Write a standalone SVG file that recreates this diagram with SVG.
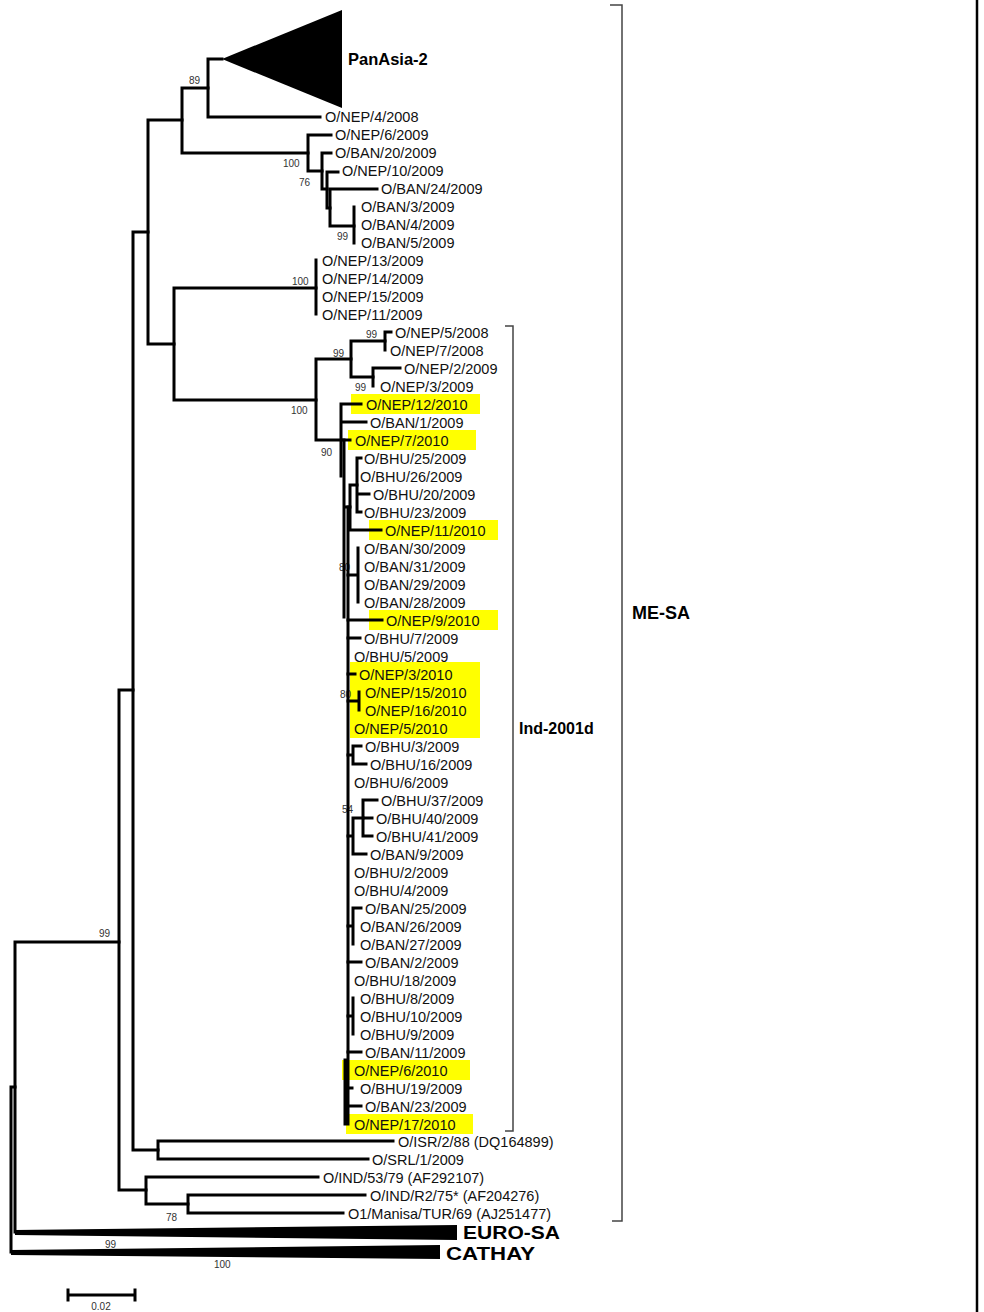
<svg xmlns="http://www.w3.org/2000/svg" width="984" height="1312" viewBox="0 0 984 1312">
<style>
.br{stroke:#000;stroke-width:3;fill:none;stroke-linecap:square}
.bk{stroke:#444;stroke-width:1.5;fill:none}
.lf{font-family:"Liberation Sans",Arial,sans-serif;font-size:14.5px;fill:#111}
.bs{font-family:"Liberation Sans",Arial,sans-serif;font-size:10px;fill:#333}
.cl{font-family:"Liberation Sans",Arial,sans-serif;font-weight:bold;fill:#000}
.hl{fill:#ffff00}
</style>
<rect width="984" height="1312" fill="#fff"/>
<g id="highlights">
<rect class="hl" x="351" y="394" width="129" height="20"/>
<rect class="hl" x="348" y="430" width="128" height="20"/>
<rect class="hl" x="369" y="520" width="129" height="20"/>
<rect class="hl" x="369" y="610" width="129" height="20"/>
<rect class="hl" x="350" y="662" width="130" height="76"/>
<rect class="hl" x="342" y="1060" width="128" height="20"/>
<rect class="hl" x="346" y="1114" width="127" height="20"/>
</g>
<g id="bootstrap">
<text class="bs" x="189" y="84">89</text>
<text class="bs" x="283" y="167">100</text>
<text class="bs" x="299" y="186">76</text>
<text class="bs" x="337" y="240">99</text>
<text class="bs" x="292" y="285">100</text>
<text class="bs" x="366" y="338">99</text>
<text class="bs" x="333" y="357">99</text>
<text class="bs" x="355" y="391">99</text>
<text class="bs" x="291" y="414">100</text>
<text class="bs" x="321" y="456">90</text>
<text class="bs" x="339" y="571">80</text>
<text class="bs" x="340" y="698">80</text>
<text class="bs" x="342" y="813">54</text>
<text class="bs" x="99" y="937">99</text>
<text class="bs" x="166" y="1221">78</text>
<text class="bs" x="105" y="1248">99</text>
<text class="bs" x="214" y="1268">100</text>
</g>
<g id="connectors">
<path class="br" d="M208,59V117M208,59H222M208,117H320"/>
<path class="br" d="M182,88V153M182,88H208M182,153H308"/>
<path class="br" d="M308,135V171M308,135H331M308,171H322"/>
<path class="br" d="M322,153V189M322,153H331M322,189H327"/>
<path class="br" d="M327,172V208M327,172H338M327,208H330"/>
<path class="br" d="M330,189V226M330,189H377M330,226H354"/>
<path class="br" d="M354,207V243"/>
<path class="br" d="M316,260V314"/>
<path class="br" d="M174,288V400M174,288H316M174,400H316"/>
<path class="br" d="M148,120V344M148,120H182M148,344H174"/>
<path class="br" d="M133,232V1150M133,232H148M133,1150H158"/>
<path class="br" d="M119,690V1190M119,690H133M119,1190H146"/>
<path class="br" d="M146,1177V1204M146,1177H318M146,1204H188"/>
<path class="br" d="M188,1195V1213M188,1195H365M188,1213H343"/>
<path class="br" d="M158,1141V1159M158,1141H393M158,1159H368"/>
<path class="br" d="M15,942V1232M15,942H119"/>
<path class="br" d="M11,1087V1252M11,1087H15"/>
<path class="br" d="M316,359V440M316,359H351M316,440H341"/>
<path class="br" d="M351,341V377M351,341H385M351,377H373"/>
<path class="br" d="M385,332V350M385,332H391"/>
<path class="br" d="M373,368V386M373,368H400"/>
<path class="br" d="M341,404V476M341,404H361M341,422H366M341,440H350"/>
<path class="br" d="M344,440V617M344,507H350"/>
<path class="br" d="M357,458V512M357,458H361M357,494H369M357,512H361"/>
<path class="br" d="M350,485V530M350,485H357M350,530H381"/>
<path class="br" d="M348,507V1124M345,1060V1124"/>
<path class="br" d="M358,548V602M348,575H358"/>
<path class="br" d="M348,620H382M348,638H360M348,674H355"/>
<path class="br" d="M359,692V710M348,701H359"/>
<path class="br" d="M353,746V764M353,746H361M353,764H366M348,755H353"/>
<path class="br" d="M363,800V836M363,800H377M363,818H372M363,836H372"/>
<path class="br" d="M353,818V854M353,818H363M353,854H366M348,836H353"/>
<path class="br" d="M353,908V944M353,908H361M348,926H353"/>
<path class="br" d="M348,962H361"/>
<path class="br" d="M353,998V1034M348,1016H353"/>
<path class="br" d="M348,1052H361M348,1088H352M348,1106H361"/>
<path class="br" d="M68,1295H135M68,1290V1300M135,1290V1300" stroke-width="2"/>
</g>
<g id="PanAsia-2">
<polygon points="222,59 342,10 342,108" fill="#000"/>
<text class="cl" x="348" y="65" font-size="16.5">PanAsia-2</text>
</g>
<g id="EURO-SA">
<polygon points="15,1230 457,1225 457,1240 15,1235" fill="#000"/>
<text class="cl" x="463" y="1239" font-size="18.5" textLength="97" lengthAdjust="spacingAndGlyphs">EURO-SA</text>
</g>
<g id="CATHAY">
<polygon points="11,1250 440,1245 440,1259 11,1255" fill="#000"/>
<text class="cl" x="446" y="1260" font-size="18.5" textLength="89" lengthAdjust="spacingAndGlyphs">CATHAY</text>
</g>
<g id="leaves" class="lf">
<g id="NEP-4-2008"><text x="325" y="122">O/NEP/4/2008</text></g>
<g id="NEP-6-2009"><text x="335" y="140">O/NEP/6/2009</text></g>
<g id="BAN-20-2009"><text x="335" y="158">O/BAN/20/2009</text></g>
<g id="NEP-10-2009"><text x="342" y="176">O/NEP/10/2009</text></g>
<g id="BAN-24-2009"><text x="381" y="194">O/BAN/24/2009</text></g>
<g id="BAN-3-2009"><text x="361" y="212">O/BAN/3/2009</text></g>
<g id="BAN-4-2009"><text x="361" y="230">O/BAN/4/2009</text></g>
<g id="BAN-5-2009"><text x="361" y="248">O/BAN/5/2009</text></g>
<g id="NEP-13-2009"><text x="322" y="266">O/NEP/13/2009</text></g>
<g id="NEP-14-2009"><text x="322" y="284">O/NEP/14/2009</text></g>
<g id="NEP-15-2009"><text x="322" y="302">O/NEP/15/2009</text></g>
<g id="NEP-11-2009"><text x="322" y="320">O/NEP/11/2009</text></g>
<g id="NEP-5-2008"><text x="395" y="338">O/NEP/5/2008</text></g>
<g id="NEP-7-2008"><text x="390" y="356">O/NEP/7/2008</text></g>
<g id="NEP-2-2009"><text x="404" y="374">O/NEP/2/2009</text></g>
<g id="NEP-3-2009"><text x="380" y="392">O/NEP/3/2009</text></g>
<g id="NEP-12-2010"><text x="366" y="410">O/NEP/12/2010</text></g>
<g id="BAN-1-2009"><text x="370" y="428">O/BAN/1/2009</text></g>
<g id="NEP-7-2010"><text x="355" y="446">O/NEP/7/2010</text></g>
<g id="BHU-25-2009"><text x="364" y="464">O/BHU/25/2009</text></g>
<g id="BHU-26-2009"><text x="360" y="482">O/BHU/26/2009</text></g>
<g id="BHU-20-2009"><text x="373" y="500">O/BHU/20/2009</text></g>
<g id="BHU-23-2009"><text x="364" y="518">O/BHU/23/2009</text></g>
<g id="NEP-11-2010"><text x="385" y="536">O/NEP/11/2010</text></g>
<g id="BAN-30-2009"><text x="364" y="554">O/BAN/30/2009</text></g>
<g id="BAN-31-2009"><text x="364" y="572">O/BAN/31/2009</text></g>
<g id="BAN-29-2009"><text x="364" y="590">O/BAN/29/2009</text></g>
<g id="BAN-28-2009"><text x="364" y="608">O/BAN/28/2009</text></g>
<g id="NEP-9-2010"><text x="386" y="626">O/NEP/9/2010</text></g>
<g id="BHU-7-2009"><text x="364" y="644">O/BHU/7/2009</text></g>
<g id="BHU-5-2009"><text x="354" y="662">O/BHU/5/2009</text></g>
<g id="NEP-3-2010"><text x="359" y="680">O/NEP/3/2010</text></g>
<g id="NEP-15-2010"><text x="365" y="698">O/NEP/15/2010</text></g>
<g id="NEP-16-2010"><text x="365" y="716">O/NEP/16/2010</text></g>
<g id="NEP-5-2010"><text x="354" y="734">O/NEP/5/2010</text></g>
<g id="BHU-3-2009"><text x="365" y="752">O/BHU/3/2009</text></g>
<g id="BHU-16-2009"><text x="370" y="770">O/BHU/16/2009</text></g>
<g id="BHU-6-2009"><text x="354" y="788">O/BHU/6/2009</text></g>
<g id="BHU-37-2009"><text x="381" y="806">O/BHU/37/2009</text></g>
<g id="BHU-40-2009"><text x="376" y="824">O/BHU/40/2009</text></g>
<g id="BHU-41-2009"><text x="376" y="842">O/BHU/41/2009</text></g>
<g id="BAN-9-2009"><text x="370" y="860">O/BAN/9/2009</text></g>
<g id="BHU-2-2009"><text x="354" y="878">O/BHU/2/2009</text></g>
<g id="BHU-4-2009"><text x="354" y="896">O/BHU/4/2009</text></g>
<g id="BAN-25-2009"><text x="365" y="914">O/BAN/25/2009</text></g>
<g id="BAN-26-2009"><text x="360" y="932">O/BAN/26/2009</text></g>
<g id="BAN-27-2009"><text x="360" y="950">O/BAN/27/2009</text></g>
<g id="BAN-2-2009"><text x="365" y="968">O/BAN/2/2009</text></g>
<g id="BHU-18-2009"><text x="354" y="986">O/BHU/18/2009</text></g>
<g id="BHU-8-2009"><text x="360" y="1004">O/BHU/8/2009</text></g>
<g id="BHU-10-2009"><text x="360" y="1022">O/BHU/10/2009</text></g>
<g id="BHU-9-2009"><text x="360" y="1040">O/BHU/9/2009</text></g>
<g id="BAN-11-2009"><text x="365" y="1058">O/BAN/11/2009</text></g>
<g id="NEP-6-2010"><text x="354" y="1076">O/NEP/6/2010</text></g>
<g id="BHU-19-2009"><text x="360" y="1094">O/BHU/19/2009</text></g>
<g id="BAN-23-2009"><text x="365" y="1112">O/BAN/23/2009</text></g>
<g id="NEP-17-2010"><text x="354" y="1130">O/NEP/17/2010</text></g>
<g id="ISR-2-88"><text x="398" y="1147">O/ISR/2/88 (DQ164899)</text></g>
<g id="SRL-1-2009"><text x="372" y="1165">O/SRL/1/2009</text></g>
<g id="IND-53-79"><text x="323" y="1183">O/IND/53/79 (AF292107)</text></g>
<g id="IND-R2-75"><text x="370" y="1201">O/IND/R2/75* (AF204276)</text></g>
<g id="Manisa-TUR-69"><text x="348" y="1219">O1/Manisa/TUR/69 (AJ251477)</text></g>
</g>
<g id="brackets">
<path class="bk" d="M610,5H622V1221H612"/>
<path class="bk" d="M505,326H513V1131H505"/>
<text class="cl" x="632" y="619" font-size="18">ME-SA</text>
<text class="cl" x="519" y="734" font-size="16">Ind-2001d</text>
</g>
<g id="scale">
<text class="bs" x="101" y="1310" text-anchor="middle" font-size="11">0.02</text>
</g>
<path d="M977,0V1312" stroke="#000" stroke-width="2.5"/>
</svg>
